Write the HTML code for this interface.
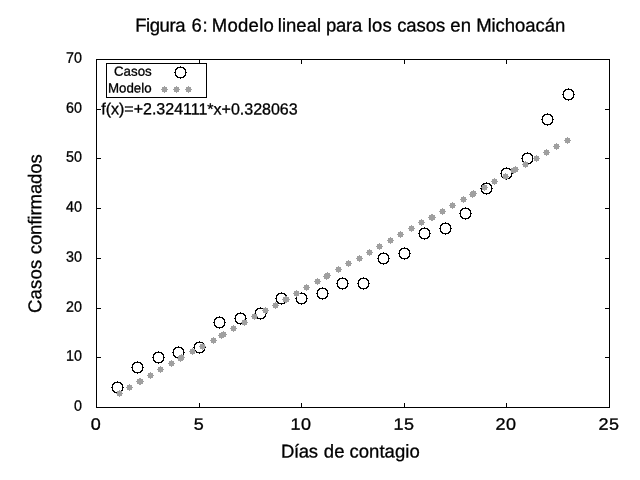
<!DOCTYPE html>
<html><head><meta charset="utf-8"><title>Figura 6</title>
<style>
html,body{margin:0;padding:0;background:#fff;}
body{width:640px;height:480px;overflow:hidden;}
svg{display:block;will-change:transform;}
text{font-family:"Liberation Sans",sans-serif;fill:#000;stroke:#000;stroke-width:0.3px;text-rendering:geometricPrecision;}
</style></head><body>
<svg width="640" height="480" viewBox="0 0 640 480">
<rect x="0" y="0" width="640" height="480" fill="#fff"/>
<g fill="#000" shape-rendering="crispEdges">
<rect x="96" y="59" width="514" height="1"/><rect x="96" y="407" width="514" height="1"/><rect x="96" y="59" width="1" height="349"/><rect x="609" y="59" width="1" height="349"/>
<rect x="199" y="403" width="1" height="4"/><rect x="199" y="60" width="1" height="4"/><rect x="301" y="403" width="1" height="4"/><rect x="301" y="60" width="1" height="4"/><rect x="404" y="403" width="1" height="4"/><rect x="404" y="60" width="1" height="4"/><rect x="506" y="403" width="1" height="4"/><rect x="506" y="60" width="1" height="4"/>
<rect x="97" y="357" width="4" height="1"/><rect x="605" y="357" width="4" height="1"/><rect x="97" y="308" width="4" height="1"/><rect x="605" y="308" width="4" height="1"/><rect x="97" y="258" width="4" height="1"/><rect x="605" y="258" width="4" height="1"/><rect x="97" y="208" width="4" height="1"/><rect x="605" y="208" width="4" height="1"/><rect x="97" y="158" width="4" height="1"/><rect x="605" y="158" width="4" height="1"/><rect x="97" y="109" width="4" height="1"/><rect x="605" y="109" width="4" height="1"/>
<rect x="106" y="63" width="101" height="1"/><rect x="106" y="97" width="101" height="1"/><rect x="106" y="63" width="1" height="35"/><rect x="206" y="63" width="1" height="35"/>
</g>
<g fill="#000" shape-rendering="crispEdges">
<path d="M117 381h1v1h-1zM114 382h7v1h-7zM113 383h2v1h-2zM120 383h2v1h-2zM112 384h2v1h-2zM121 384h2v1h-2zM112 385h1v1h-1zM122 385h1v1h-1zM112 386h1v1h-1zM122 386h1v1h-1zM111 387h2v1h-2zM122 387h2v1h-2zM112 388h1v1h-1zM122 388h1v1h-1zM112 389h1v1h-1zM122 389h1v1h-1zM112 390h2v1h-2zM121 390h2v1h-2zM113 391h2v1h-2zM120 391h2v1h-2zM114 392h7v1h-7zM117 393h1v1h-1z"/><path d="M137 361h1v1h-1zM134 362h7v1h-7zM133 363h2v1h-2zM140 363h2v1h-2zM132 364h2v1h-2zM141 364h2v1h-2zM132 365h1v1h-1zM142 365h1v1h-1zM132 366h1v1h-1zM142 366h1v1h-1zM131 367h2v1h-2zM142 367h2v1h-2zM132 368h1v1h-1zM142 368h1v1h-1zM132 369h1v1h-1zM142 369h1v1h-1zM132 370h2v1h-2zM141 370h2v1h-2zM133 371h2v1h-2zM140 371h2v1h-2zM134 372h7v1h-7zM137 373h1v1h-1z"/><path d="M158 351h1v1h-1zM155 352h7v1h-7zM154 353h2v1h-2zM161 353h2v1h-2zM153 354h2v1h-2zM162 354h2v1h-2zM153 355h1v1h-1zM163 355h1v1h-1zM153 356h1v1h-1zM163 356h1v1h-1zM152 357h2v1h-2zM163 357h2v1h-2zM153 358h1v1h-1zM163 358h1v1h-1zM153 359h1v1h-1zM163 359h1v1h-1zM153 360h2v1h-2zM162 360h2v1h-2zM154 361h2v1h-2zM161 361h2v1h-2zM155 362h7v1h-7zM158 363h1v1h-1z"/><path d="M178 346h1v1h-1zM175 347h7v1h-7zM174 348h2v1h-2zM181 348h2v1h-2zM173 349h2v1h-2zM182 349h2v1h-2zM173 350h1v1h-1zM183 350h1v1h-1zM173 351h1v1h-1zM183 351h1v1h-1zM172 352h2v1h-2zM183 352h2v1h-2zM173 353h1v1h-1zM183 353h1v1h-1zM173 354h1v1h-1zM183 354h1v1h-1zM173 355h2v1h-2zM182 355h2v1h-2zM174 356h2v1h-2zM181 356h2v1h-2zM175 357h7v1h-7zM178 358h1v1h-1z"/><path d="M199 341h1v1h-1zM196 342h7v1h-7zM195 343h2v1h-2zM202 343h2v1h-2zM194 344h2v1h-2zM203 344h2v1h-2zM194 345h1v1h-1zM204 345h1v1h-1zM194 346h1v1h-1zM204 346h1v1h-1zM193 347h2v1h-2zM204 347h2v1h-2zM194 348h1v1h-1zM204 348h1v1h-1zM194 349h1v1h-1zM204 349h1v1h-1zM194 350h2v1h-2zM203 350h2v1h-2zM195 351h2v1h-2zM202 351h2v1h-2zM196 352h7v1h-7zM199 353h1v1h-1z"/><path d="M219 316h1v1h-1zM216 317h7v1h-7zM215 318h2v1h-2zM222 318h2v1h-2zM214 319h2v1h-2zM223 319h2v1h-2zM214 320h1v1h-1zM224 320h1v1h-1zM214 321h1v1h-1zM224 321h1v1h-1zM213 322h2v1h-2zM224 322h2v1h-2zM214 323h1v1h-1zM224 323h1v1h-1zM214 324h1v1h-1zM224 324h1v1h-1zM214 325h2v1h-2zM223 325h2v1h-2zM215 326h2v1h-2zM222 326h2v1h-2zM216 327h7v1h-7zM219 328h1v1h-1z"/><path d="M240 312h1v1h-1zM237 313h7v1h-7zM236 314h2v1h-2zM243 314h2v1h-2zM235 315h2v1h-2zM244 315h2v1h-2zM235 316h1v1h-1zM245 316h1v1h-1zM235 317h1v1h-1zM245 317h1v1h-1zM234 318h2v1h-2zM245 318h2v1h-2zM235 319h1v1h-1zM245 319h1v1h-1zM235 320h1v1h-1zM245 320h1v1h-1zM235 321h2v1h-2zM244 321h2v1h-2zM236 322h2v1h-2zM243 322h2v1h-2zM237 323h7v1h-7zM240 324h1v1h-1z"/><path d="M260 307h1v1h-1zM257 308h7v1h-7zM256 309h2v1h-2zM263 309h2v1h-2zM255 310h2v1h-2zM264 310h2v1h-2zM255 311h1v1h-1zM265 311h1v1h-1zM255 312h1v1h-1zM265 312h1v1h-1zM254 313h2v1h-2zM265 313h2v1h-2zM255 314h1v1h-1zM265 314h1v1h-1zM255 315h1v1h-1zM265 315h1v1h-1zM255 316h2v1h-2zM264 316h2v1h-2zM256 317h2v1h-2zM263 317h2v1h-2zM257 318h7v1h-7zM260 319h1v1h-1z"/><path d="M281 292h1v1h-1zM278 293h7v1h-7zM277 294h2v1h-2zM284 294h2v1h-2zM276 295h2v1h-2zM285 295h2v1h-2zM276 296h1v1h-1zM286 296h1v1h-1zM276 297h1v1h-1zM286 297h1v1h-1zM275 298h2v1h-2zM286 298h2v1h-2zM276 299h1v1h-1zM286 299h1v1h-1zM276 300h1v1h-1zM286 300h1v1h-1zM276 301h2v1h-2zM285 301h2v1h-2zM277 302h2v1h-2zM284 302h2v1h-2zM278 303h7v1h-7zM281 304h1v1h-1z"/><path d="M301 292h1v1h-1zM298 293h7v1h-7zM297 294h2v1h-2zM304 294h2v1h-2zM296 295h2v1h-2zM305 295h2v1h-2zM296 296h1v1h-1zM306 296h1v1h-1zM296 297h1v1h-1zM306 297h1v1h-1zM295 298h2v1h-2zM306 298h2v1h-2zM296 299h1v1h-1zM306 299h1v1h-1zM296 300h1v1h-1zM306 300h1v1h-1zM296 301h2v1h-2zM305 301h2v1h-2zM297 302h2v1h-2zM304 302h2v1h-2zM298 303h7v1h-7zM301 304h1v1h-1z"/><path d="M322 287h1v1h-1zM319 288h7v1h-7zM318 289h2v1h-2zM325 289h2v1h-2zM317 290h2v1h-2zM326 290h2v1h-2zM317 291h1v1h-1zM327 291h1v1h-1zM317 292h1v1h-1zM327 292h1v1h-1zM316 293h2v1h-2zM327 293h2v1h-2zM317 294h1v1h-1zM327 294h1v1h-1zM317 295h1v1h-1zM327 295h1v1h-1zM317 296h2v1h-2zM326 296h2v1h-2zM318 297h2v1h-2zM325 297h2v1h-2zM319 298h7v1h-7zM322 299h1v1h-1z"/><path d="M342 277h1v1h-1zM339 278h7v1h-7zM338 279h2v1h-2zM345 279h2v1h-2zM337 280h2v1h-2zM346 280h2v1h-2zM337 281h1v1h-1zM347 281h1v1h-1zM337 282h1v1h-1zM347 282h1v1h-1zM336 283h2v1h-2zM347 283h2v1h-2zM337 284h1v1h-1zM347 284h1v1h-1zM337 285h1v1h-1zM347 285h1v1h-1zM337 286h2v1h-2zM346 286h2v1h-2zM338 287h2v1h-2zM345 287h2v1h-2zM339 288h7v1h-7zM342 289h1v1h-1z"/><path d="M363 277h1v1h-1zM360 278h7v1h-7zM359 279h2v1h-2zM366 279h2v1h-2zM358 280h2v1h-2zM367 280h2v1h-2zM358 281h1v1h-1zM368 281h1v1h-1zM358 282h1v1h-1zM368 282h1v1h-1zM357 283h2v1h-2zM368 283h2v1h-2zM358 284h1v1h-1zM368 284h1v1h-1zM358 285h1v1h-1zM368 285h1v1h-1zM358 286h2v1h-2zM367 286h2v1h-2zM359 287h2v1h-2zM366 287h2v1h-2zM360 288h7v1h-7zM363 289h1v1h-1z"/><path d="M383 252h1v1h-1zM380 253h7v1h-7zM379 254h2v1h-2zM386 254h2v1h-2zM378 255h2v1h-2zM387 255h2v1h-2zM378 256h1v1h-1zM388 256h1v1h-1zM378 257h1v1h-1zM388 257h1v1h-1zM377 258h2v1h-2zM388 258h2v1h-2zM378 259h1v1h-1zM388 259h1v1h-1zM378 260h1v1h-1zM388 260h1v1h-1zM378 261h2v1h-2zM387 261h2v1h-2zM379 262h2v1h-2zM386 262h2v1h-2zM380 263h7v1h-7zM383 264h1v1h-1z"/><path d="M404 247h1v1h-1zM401 248h7v1h-7zM400 249h2v1h-2zM407 249h2v1h-2zM399 250h2v1h-2zM408 250h2v1h-2zM399 251h1v1h-1zM409 251h1v1h-1zM399 252h1v1h-1zM409 252h1v1h-1zM398 253h2v1h-2zM409 253h2v1h-2zM399 254h1v1h-1zM409 254h1v1h-1zM399 255h1v1h-1zM409 255h1v1h-1zM399 256h2v1h-2zM408 256h2v1h-2zM400 257h2v1h-2zM407 257h2v1h-2zM401 258h7v1h-7zM404 259h1v1h-1z"/><path d="M424 227h1v1h-1zM421 228h7v1h-7zM420 229h2v1h-2zM427 229h2v1h-2zM419 230h2v1h-2zM428 230h2v1h-2zM419 231h1v1h-1zM429 231h1v1h-1zM419 232h1v1h-1zM429 232h1v1h-1zM418 233h2v1h-2zM429 233h2v1h-2zM419 234h1v1h-1zM429 234h1v1h-1zM419 235h1v1h-1zM429 235h1v1h-1zM419 236h2v1h-2zM428 236h2v1h-2zM420 237h2v1h-2zM427 237h2v1h-2zM421 238h7v1h-7zM424 239h1v1h-1z"/><path d="M445 222h1v1h-1zM442 223h7v1h-7zM441 224h2v1h-2zM448 224h2v1h-2zM440 225h2v1h-2zM449 225h2v1h-2zM440 226h1v1h-1zM450 226h1v1h-1zM440 227h1v1h-1zM450 227h1v1h-1zM439 228h2v1h-2zM450 228h2v1h-2zM440 229h1v1h-1zM450 229h1v1h-1zM440 230h1v1h-1zM450 230h1v1h-1zM440 231h2v1h-2zM449 231h2v1h-2zM441 232h2v1h-2zM448 232h2v1h-2zM442 233h7v1h-7zM445 234h1v1h-1z"/><path d="M465 207h1v1h-1zM462 208h7v1h-7zM461 209h2v1h-2zM468 209h2v1h-2zM460 210h2v1h-2zM469 210h2v1h-2zM460 211h1v1h-1zM470 211h1v1h-1zM460 212h1v1h-1zM470 212h1v1h-1zM459 213h2v1h-2zM470 213h2v1h-2zM460 214h1v1h-1zM470 214h1v1h-1zM460 215h1v1h-1zM470 215h1v1h-1zM460 216h2v1h-2zM469 216h2v1h-2zM461 217h2v1h-2zM468 217h2v1h-2zM462 218h7v1h-7zM465 219h1v1h-1z"/><path d="M486 182h1v1h-1zM483 183h7v1h-7zM482 184h2v1h-2zM489 184h2v1h-2zM481 185h2v1h-2zM490 185h2v1h-2zM481 186h1v1h-1zM491 186h1v1h-1zM481 187h1v1h-1zM491 187h1v1h-1zM480 188h2v1h-2zM491 188h2v1h-2zM481 189h1v1h-1zM491 189h1v1h-1zM481 190h1v1h-1zM491 190h1v1h-1zM481 191h2v1h-2zM490 191h2v1h-2zM482 192h2v1h-2zM489 192h2v1h-2zM483 193h7v1h-7zM486 194h1v1h-1z"/><path d="M506 167h1v1h-1zM503 168h7v1h-7zM502 169h2v1h-2zM509 169h2v1h-2zM501 170h2v1h-2zM510 170h2v1h-2zM501 171h1v1h-1zM511 171h1v1h-1zM501 172h1v1h-1zM511 172h1v1h-1zM500 173h2v1h-2zM511 173h2v1h-2zM501 174h1v1h-1zM511 174h1v1h-1zM501 175h1v1h-1zM511 175h1v1h-1zM501 176h2v1h-2zM510 176h2v1h-2zM502 177h2v1h-2zM509 177h2v1h-2zM503 178h7v1h-7zM506 179h1v1h-1z"/><path d="M527 152h1v1h-1zM524 153h7v1h-7zM523 154h2v1h-2zM530 154h2v1h-2zM522 155h2v1h-2zM531 155h2v1h-2zM522 156h1v1h-1zM532 156h1v1h-1zM522 157h1v1h-1zM532 157h1v1h-1zM521 158h2v1h-2zM532 158h2v1h-2zM522 159h1v1h-1zM532 159h1v1h-1zM522 160h1v1h-1zM532 160h1v1h-1zM522 161h2v1h-2zM531 161h2v1h-2zM523 162h2v1h-2zM530 162h2v1h-2zM524 163h7v1h-7zM527 164h1v1h-1z"/><path d="M547 113h1v1h-1zM544 114h7v1h-7zM543 115h2v1h-2zM550 115h2v1h-2zM542 116h2v1h-2zM551 116h2v1h-2zM542 117h1v1h-1zM552 117h1v1h-1zM542 118h1v1h-1zM552 118h1v1h-1zM541 119h2v1h-2zM552 119h2v1h-2zM542 120h1v1h-1zM552 120h1v1h-1zM542 121h1v1h-1zM552 121h1v1h-1zM542 122h2v1h-2zM551 122h2v1h-2zM543 123h2v1h-2zM550 123h2v1h-2zM544 124h7v1h-7zM547 125h1v1h-1z"/><path d="M568 88h1v1h-1zM565 89h7v1h-7zM564 90h2v1h-2zM571 90h2v1h-2zM563 91h2v1h-2zM572 91h2v1h-2zM563 92h1v1h-1zM573 92h1v1h-1zM563 93h1v1h-1zM573 93h1v1h-1zM562 94h2v1h-2zM573 94h2v1h-2zM563 95h1v1h-1zM573 95h1v1h-1zM563 96h1v1h-1zM573 96h1v1h-1zM563 97h2v1h-2zM572 97h2v1h-2zM564 98h2v1h-2zM571 98h2v1h-2zM565 99h7v1h-7zM568 100h1v1h-1z"/>
<path d="M180 66h1v1h-1zM177 67h7v1h-7zM176 68h2v1h-2zM183 68h2v1h-2zM175 69h2v1h-2zM184 69h2v1h-2zM175 70h1v1h-1zM185 70h1v1h-1zM175 71h1v1h-1zM185 71h1v1h-1zM174 72h2v1h-2zM185 72h2v1h-2zM175 73h1v1h-1zM185 73h1v1h-1zM175 74h1v1h-1zM185 74h1v1h-1zM175 75h2v1h-2zM184 75h2v1h-2zM176 76h2v1h-2zM183 76h2v1h-2zM177 77h7v1h-7zM180 78h1v1h-1z"/>
</g>
<g fill="#a0a0a0" shape-rendering="crispEdges">
<rect x="117" y="391" width="5" height="5"/><rect x="116" y="393" width="7" height="1"/><rect x="119" y="390" width="1" height="7"/><rect x="127" y="385" width="5" height="5"/><rect x="126" y="387" width="7" height="1"/><rect x="129" y="384" width="1" height="7"/><rect x="137" y="379" width="5" height="5"/><rect x="136" y="381" width="7" height="1"/><rect x="139" y="378" width="1" height="7"/><rect x="138" y="379" width="5" height="5"/><rect x="137" y="381" width="7" height="1"/><rect x="140" y="378" width="1" height="7"/><rect x="148" y="373" width="5" height="5"/><rect x="147" y="375" width="7" height="1"/><rect x="150" y="372" width="1" height="7"/><rect x="158" y="367" width="5" height="5"/><rect x="157" y="369" width="7" height="1"/><rect x="160" y="366" width="1" height="7"/><rect x="169" y="361" width="5" height="5"/><rect x="168" y="363" width="7" height="1"/><rect x="171" y="360" width="1" height="7"/><rect x="178" y="356" width="5" height="5"/><rect x="177" y="358" width="7" height="1"/><rect x="180" y="355" width="1" height="7"/><rect x="179" y="355" width="5" height="5"/><rect x="178" y="357" width="7" height="1"/><rect x="181" y="354" width="1" height="7"/><rect x="190" y="349" width="5" height="5"/><rect x="189" y="351" width="7" height="1"/><rect x="192" y="348" width="1" height="7"/><rect x="200" y="344" width="5" height="5"/><rect x="199" y="346" width="7" height="1"/><rect x="202" y="343" width="1" height="7"/><rect x="211" y="338" width="5" height="5"/><rect x="210" y="340" width="7" height="1"/><rect x="213" y="337" width="1" height="7"/><rect x="219" y="333" width="5" height="5"/><rect x="218" y="335" width="7" height="1"/><rect x="221" y="332" width="1" height="7"/><rect x="221" y="332" width="5" height="5"/><rect x="220" y="334" width="7" height="1"/><rect x="223" y="331" width="1" height="7"/><rect x="231" y="326" width="5" height="5"/><rect x="230" y="328" width="7" height="1"/><rect x="233" y="325" width="1" height="7"/><rect x="242" y="320" width="5" height="5"/><rect x="241" y="322" width="7" height="1"/><rect x="244" y="319" width="1" height="7"/><rect x="252" y="314" width="5" height="5"/><rect x="251" y="316" width="7" height="1"/><rect x="254" y="313" width="1" height="7"/><rect x="263" y="308" width="5" height="5"/><rect x="262" y="310" width="7" height="1"/><rect x="265" y="307" width="1" height="7"/><rect x="273" y="303" width="5" height="5"/><rect x="272" y="305" width="7" height="1"/><rect x="275" y="302" width="1" height="7"/><rect x="283" y="297" width="5" height="5"/><rect x="282" y="299" width="7" height="1"/><rect x="285" y="296" width="1" height="7"/><rect x="284" y="297" width="5" height="5"/><rect x="283" y="299" width="7" height="1"/><rect x="286" y="296" width="1" height="7"/><rect x="294" y="291" width="5" height="5"/><rect x="293" y="293" width="7" height="1"/><rect x="296" y="290" width="1" height="7"/><rect x="304" y="285" width="5" height="5"/><rect x="303" y="287" width="7" height="1"/><rect x="306" y="284" width="1" height="7"/><rect x="315" y="279" width="5" height="5"/><rect x="314" y="281" width="7" height="1"/><rect x="317" y="278" width="1" height="7"/><rect x="324" y="274" width="5" height="5"/><rect x="323" y="276" width="7" height="1"/><rect x="326" y="273" width="1" height="7"/><rect x="325" y="273" width="5" height="5"/><rect x="324" y="275" width="7" height="1"/><rect x="327" y="272" width="1" height="7"/><rect x="336" y="267" width="5" height="5"/><rect x="335" y="269" width="7" height="1"/><rect x="338" y="266" width="1" height="7"/><rect x="346" y="261" width="5" height="5"/><rect x="345" y="263" width="7" height="1"/><rect x="348" y="260" width="1" height="7"/><rect x="357" y="256" width="5" height="5"/><rect x="356" y="258" width="7" height="1"/><rect x="359" y="255" width="1" height="7"/><rect x="367" y="250" width="5" height="5"/><rect x="366" y="252" width="7" height="1"/><rect x="369" y="249" width="1" height="7"/><rect x="377" y="244" width="5" height="5"/><rect x="376" y="246" width="7" height="1"/><rect x="379" y="243" width="1" height="7"/><rect x="388" y="238" width="5" height="5"/><rect x="387" y="240" width="7" height="1"/><rect x="390" y="237" width="1" height="7"/><rect x="398" y="232" width="5" height="5"/><rect x="397" y="234" width="7" height="1"/><rect x="400" y="231" width="1" height="7"/><rect x="409" y="226" width="5" height="5"/><rect x="408" y="228" width="7" height="1"/><rect x="411" y="225" width="1" height="7"/><rect x="419" y="220" width="5" height="5"/><rect x="418" y="222" width="7" height="1"/><rect x="421" y="219" width="1" height="7"/><rect x="429" y="215" width="5" height="5"/><rect x="428" y="217" width="7" height="1"/><rect x="431" y="214" width="1" height="7"/><rect x="430" y="215" width="5" height="5"/><rect x="429" y="217" width="7" height="1"/><rect x="432" y="214" width="1" height="7"/><rect x="440" y="209" width="5" height="5"/><rect x="439" y="211" width="7" height="1"/><rect x="442" y="208" width="1" height="7"/><rect x="450" y="203" width="5" height="5"/><rect x="449" y="205" width="7" height="1"/><rect x="452" y="202" width="1" height="7"/><rect x="461" y="197" width="5" height="5"/><rect x="460" y="199" width="7" height="1"/><rect x="463" y="196" width="1" height="7"/><rect x="470" y="192" width="5" height="5"/><rect x="469" y="194" width="7" height="1"/><rect x="472" y="191" width="1" height="7"/><rect x="471" y="191" width="5" height="5"/><rect x="470" y="193" width="7" height="1"/><rect x="473" y="190" width="1" height="7"/><rect x="482" y="185" width="5" height="5"/><rect x="481" y="187" width="7" height="1"/><rect x="484" y="184" width="1" height="7"/><rect x="492" y="179" width="5" height="5"/><rect x="491" y="181" width="7" height="1"/><rect x="494" y="178" width="1" height="7"/><rect x="503" y="174" width="5" height="5"/><rect x="502" y="176" width="7" height="1"/><rect x="505" y="173" width="1" height="7"/><rect x="511" y="168" width="5" height="5"/><rect x="510" y="170" width="7" height="1"/><rect x="513" y="167" width="1" height="7"/><rect x="513" y="167" width="5" height="5"/><rect x="512" y="169" width="7" height="1"/><rect x="515" y="166" width="1" height="7"/><rect x="523" y="162" width="5" height="5"/><rect x="522" y="164" width="7" height="1"/><rect x="525" y="161" width="1" height="7"/><rect x="534" y="156" width="5" height="5"/><rect x="533" y="158" width="7" height="1"/><rect x="536" y="155" width="1" height="7"/><rect x="544" y="150" width="5" height="5"/><rect x="543" y="152" width="7" height="1"/><rect x="546" y="149" width="1" height="7"/><rect x="554" y="144" width="5" height="5"/><rect x="553" y="146" width="7" height="1"/><rect x="556" y="143" width="1" height="7"/><rect x="565" y="138" width="5" height="5"/><rect x="564" y="140" width="7" height="1"/><rect x="567" y="137" width="1" height="7"/>
<rect x="162" y="87" width="5" height="5"/><rect x="161" y="89" width="7" height="1"/><rect x="164" y="86" width="1" height="7"/><rect x="174" y="87" width="5" height="5"/><rect x="173" y="89" width="7" height="1"/><rect x="176" y="86" width="1" height="7"/><rect x="186" y="87" width="5" height="5"/><rect x="185" y="89" width="7" height="1"/><rect x="188" y="86" width="1" height="7"/>
</g>
<text transform="translate(135.27 31.45) rotate(0.05)" font-size="18.5" letter-spacing="-0.456">Figura</text><text transform="translate(191.60 31.45) rotate(0.05)" font-size="18.5" letter-spacing="0.576">6:</text><text transform="translate(211.87 31.45) rotate(0.05)" font-size="18.5" letter-spacing="0.251">Modelo</text><text transform="translate(277.85 31.45) rotate(0.05)" font-size="18.5" letter-spacing="-0.004">lineal</text><text transform="translate(326.02 31.45) rotate(0.05)" font-size="18.5" letter-spacing="-0.255">para</text><text transform="translate(367.85 31.45) rotate(0.05)" font-size="18.5" letter-spacing="0.082">los</text><text transform="translate(397.16 31.45) rotate(0.05)" font-size="18.5" letter-spacing="-0.049">casos</text><text transform="translate(450.20 31.45) rotate(0.05)" font-size="18.5" letter-spacing="0.235">en</text><text transform="translate(476.17 31.45) rotate(0.05)" font-size="18.5" letter-spacing="-0.043">Michoacán</text>
<text transform="translate(280.92 457.55) rotate(0.05)" font-size="18.5" letter-spacing="-0.298">Días</text><text transform="translate(323.84 457.55) rotate(0.05)" font-size="18.5" letter-spacing="0.201">de</text><text transform="translate(349.41 457.55) rotate(0.05)" font-size="18.5" letter-spacing="0.048">contagio</text>
<text transform="translate(41.30 313.00) rotate(-89.95)" font-size="18.5" letter-spacing="0.222">Casos</text><text transform="translate(41.30 254.29) rotate(-89.95)" font-size="18.5" letter-spacing="-0.069">confirmados</text>
<text transform="translate(81.90 410.75) rotate(0.05) scale(0.94 1)" font-size="15.2" text-anchor="end" stroke-width="0.15">0</text><text transform="translate(81.90 360.75) rotate(0.05) scale(0.94 1)" font-size="15.2" text-anchor="end" stroke-width="0.15">10</text><text transform="translate(81.90 311.75) rotate(0.05) scale(0.94 1)" font-size="15.2" text-anchor="end" stroke-width="0.15">20</text><text transform="translate(81.90 261.75) rotate(0.05) scale(0.94 1)" font-size="15.2" text-anchor="end" stroke-width="0.15">30</text><text transform="translate(81.90 211.75) rotate(0.05) scale(0.94 1)" font-size="15.2" text-anchor="end" stroke-width="0.15">40</text><text transform="translate(81.90 161.75) rotate(0.05) scale(0.94 1)" font-size="15.2" text-anchor="end" stroke-width="0.15">50</text><text transform="translate(81.90 112.75) rotate(0.05) scale(0.94 1)" font-size="15.2" text-anchor="end" stroke-width="0.15">60</text><text transform="translate(81.90 62.75) rotate(0.05) scale(0.94 1)" font-size="15.2" text-anchor="end" stroke-width="0.15">70</text>
<text transform="translate(95.70 429.65) rotate(0.05) scale(1.09 1)" font-size="16.5" text-anchor="middle" stroke-width="0.15">0</text><text transform="translate(198.70 429.65) rotate(0.05) scale(1.09 1)" font-size="16.5" text-anchor="middle" stroke-width="0.15">5</text><text transform="translate(300.95 429.65) rotate(0.05) scale(1.09 1)" font-size="16.5" text-anchor="middle" letter-spacing="0.5" stroke-width="0.15">10</text><text transform="translate(403.95 429.65) rotate(0.05) scale(1.09 1)" font-size="16.5" text-anchor="middle" letter-spacing="0.5" stroke-width="0.15">15</text><text transform="translate(505.95 429.65) rotate(0.05) scale(1.09 1)" font-size="16.5" text-anchor="middle" letter-spacing="0.5" stroke-width="0.15">20</text><text transform="translate(608.95 429.65) rotate(0.05) scale(1.09 1)" font-size="16.5" text-anchor="middle" letter-spacing="0.5" stroke-width="0.15">25</text>
<text transform="translate(114.00 75.70) rotate(0.05)" font-size="13.3">Casos</text><text transform="translate(108.00 92.50) rotate(0.05)" font-size="13.3">Modelo</text>
<text stroke="#fff" transform="translate(101.20 114.30) rotate(0.05)" font-size="16" stroke-width="0.3">f(x)=+2.324111*x+0.328063</text>
</svg>
</body></html>
